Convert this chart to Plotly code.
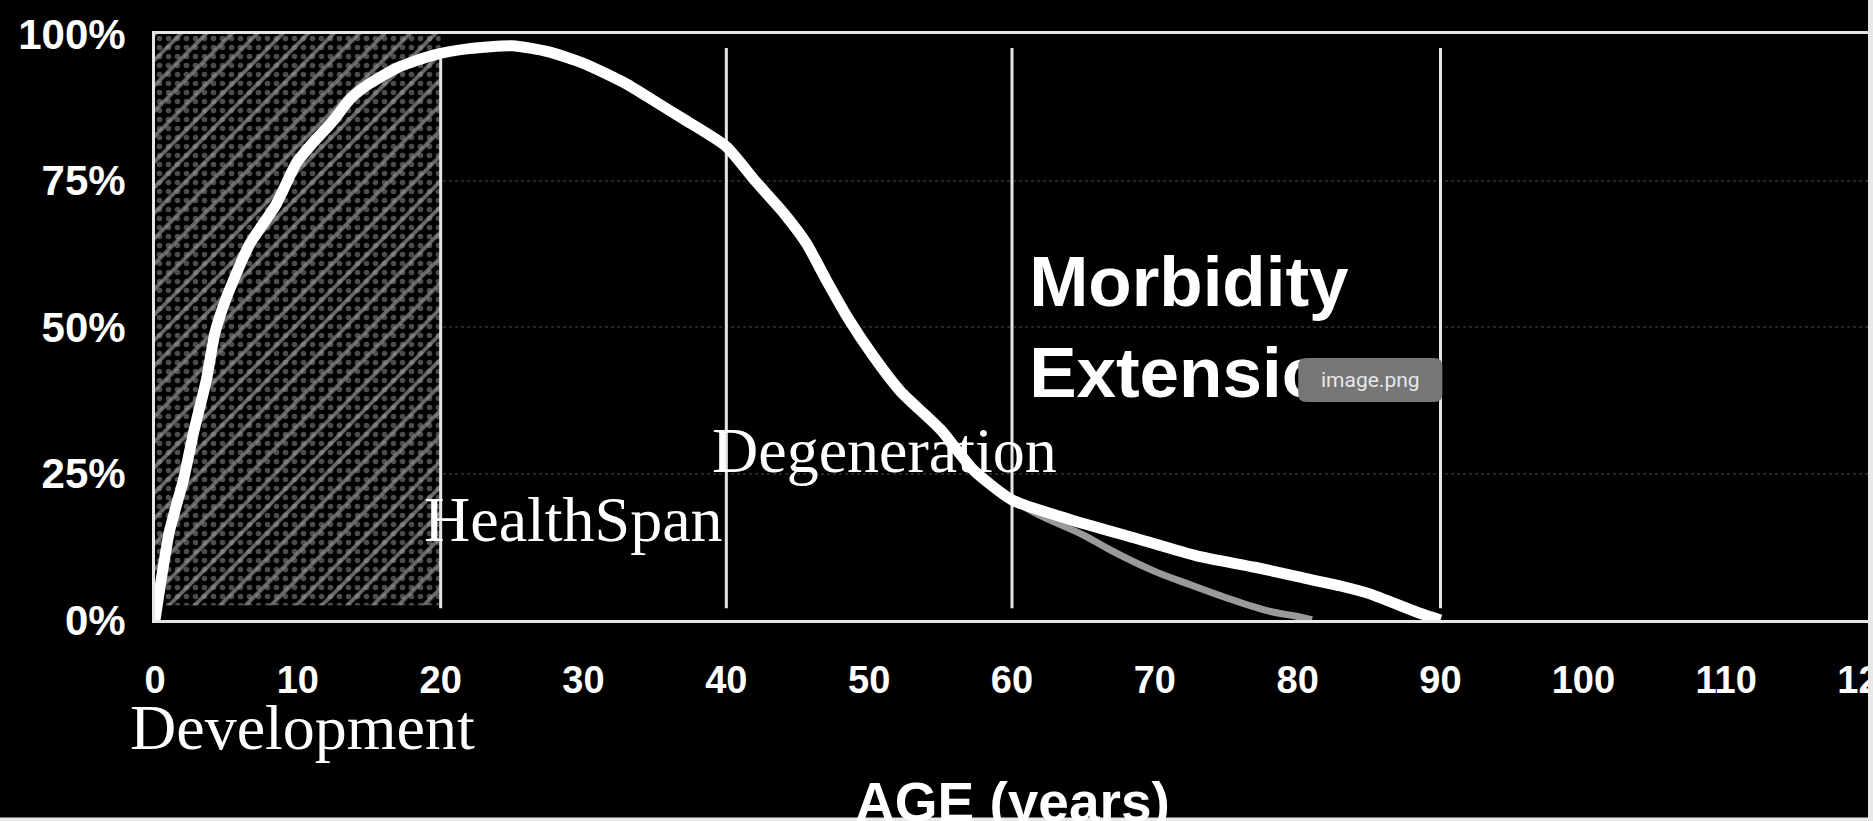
import plotly.graph_objects as go

# ---- data ----
age = [0, 1, 2, 2.7, 3.6, 4.2, 5, 6.6, 8.5, 9.9, 10.9, 12.4, 13.7, 15, 17, 19.5, 22, 25,
       27.5, 30, 33, 35, 37, 40, 42, 44, 45.6, 47, 48.4, 50.3, 52.2, 55, 57.3, 60, 64,
       69, 73, 77, 80, 83, 85, 88.5, 90]
survival_pct = [0, 15, 24, 32, 41, 49, 55, 64, 71, 78, 81, 85, 89, 91.5, 94.3, 96.4, 97.5, 98,
                97, 95, 91.5, 88.5, 85.5, 80.8, 75, 69.5, 64.3, 58, 52, 45, 39, 32.5, 25.6, 20.5, 17.2,
                13.7, 10.9, 9, 7.4, 5.8, 4.5, 1.2, 0]

alt_age = [60, 62, 65, 67, 70, 72.5, 75, 78, 80, 81]
alt_pct = [20.5, 17.8, 14.5, 11.8, 8.3, 6.0, 3.8, 1.5, 0.6, 0]

development_range = [0, 20]
stage_bounds = [20, 40, 60, 90]

x_ticks = list(range(0, 121, 10))
y_ticks = [0, 25, 50, 75, 100]
y_tick_labels = ["0%", "25%", "50%", "75%", "100%"]

stage_labels = ["Development", "HealthSpan", "Degeneration"]
stage_label_x = [10.3, 29.3, 51.1]
stage_label_y = [-0.183, 0.171, 0.290]        # paper units

morbidity_lines = ["Morbidity", "Extension"]
morbidity_x = [61.2, 61.2]
morbidity_y = [56.6, 41.1]

x_title = "AGE (years)"
tooltip_text = "image.png"
tooltip_box = [80.04, 90.13, 37.2, 44.7]   # x0, x1, y0, y1 in data units

# ---- figure ----
LINE = "#e6e6e6"
fig = go.Figure()

hx = [development_range[0], development_range[1], development_range[1], development_range[0], development_range[0]]
hy = [2.5, 2.5, 100, 100, 2.5]
fig.add_trace(go.Scatter(x=hx, y=hy, mode="lines", fill="toself", line=dict(width=0),
                         fillcolor="black",
                         fillpattern=dict(shape="/", fgcolor="#cfcfcf", bgcolor="black",
                                          size=18, solidity=0.22),
                         hoverinfo="skip"))
fig.add_trace(go.Scatter(x=hx, y=hy, mode="lines", fill="toself", line=dict(width=0),
                         fillcolor="rgba(0,0,0,0)",
                         fillpattern=dict(shape=".", fgcolor="#9a9a9a", bgcolor="rgba(0,0,0,0)",
                                          size=9, solidity=0.3),
                         hoverinfo="skip"))

vx, vy = [], []
for b in stage_bounds:
    vx += [b, b, None]
    vy += [2.0, 97.6, None]
fig.add_trace(go.Scatter(x=vx, y=vy, mode="lines", line=dict(color=LINE, width=3),
                         hoverinfo="skip"))

fig.add_trace(go.Scatter(x=alt_age, y=alt_pct, mode="lines",
                         line=dict(color="#9a9a9a", width=7, shape="spline"), hoverinfo="skip"))
fig.add_trace(go.Scatter(x=age, y=survival_pct, mode="lines",
                         line=dict(color="white", width=11, shape="spline", smoothing=0.6),
                         hoverinfo="skip"))

fig.add_trace(go.Scatter(x=morbidity_x, y=morbidity_y, mode="text", text=morbidity_lines,
                         textposition="middle right", cliponaxis=False,
                         textfont=dict(family="Liberation Sans, Arial, sans-serif", size=71,
                                       color="white", weight="bold"),
                         hoverinfo="skip"))

serif = "Liberation Serif, Times New Roman, serif"
for t, x, y in zip(stage_labels, stage_label_x, stage_label_y):
    fig.add_annotation(x=x, y=y, xref="x", yref="paper", text=t, showarrow=False,
                       xanchor="center", yanchor="middle",
                       font=dict(family=serif, size=64, color="white"))

fig.add_annotation(x=60.0, y=-0.31, xref="x", yref="paper", text=x_title, showarrow=False,
                   xanchor="center", yanchor="middle",
                   font=dict(family="Liberation Sans, Arial, sans-serif", size=55,
                             color="white", weight="bold"))

# tooltip-like rounded box
x0, x1, y0, y1 = tooltip_box
rx, ry = 0.56, 1.37
path = (f"M {x0+rx},{y0} L {x1-rx},{y0} Q {x1},{y0} {x1},{y0+ry} L {x1},{y1-ry} "
        f"Q {x1},{y1} {x1-rx},{y1} L {x0+rx},{y1} Q {x0},{y1} {x0},{y1-ry} "
        f"L {x0},{y0+ry} Q {x0},{y0} {x0+rx},{y0} Z")
fig.add_shape(type="path", path=path, xref="x", yref="y", fillcolor="#767676",
              line=dict(width=0), layer="above")
fig.add_annotation(x=(x0 + x1) / 2, y=(y0 + y1) / 2, xref="x", yref="y", text=tooltip_text,
                   showarrow=False, xanchor="center", yanchor="middle",
                   font=dict(family="Roboto, Noto Sans, sans-serif", size=21, color="#e8e8e8"))

# screenshot edge strips
fig.add_shape(type="rect", xref="paper", yref="paper", x0=0.99942, x1=1.01, y0=-0.40, y1=1.1,
              fillcolor="#e9e9e9", line=dict(width=0), layer="above")
fig.add_shape(type="rect", xref="paper", yref="paper", x0=-0.1, x1=1.01, y0=-0.40, y1=-0.3370,
              fillcolor="#e9e9e9", line=dict(width=0), layer="above")

fig.update_xaxes(range=[0, 120], tickvals=x_ticks, ticks="", showgrid=False, zeroline=False,
                 showline=True, mirror=True, linecolor=LINE, linewidth=3, automargin=False,
                 ticklabelstandoff=24, ticklabeloverflow="allow",
                 tickfont=dict(family="Liberation Sans, Arial, sans-serif",
                               size=38, color="white", weight="bold"))
fig.update_yaxes(range=[0, 100], tickvals=y_ticks, ticktext=y_tick_labels, ticks="",
                 showgrid=True, gridcolor="#262626", griddash="dot", gridwidth=2,
                 zeroline=False, showline=True, mirror=False, linecolor=LINE, linewidth=3,
                 automargin=False, ticklabelstandoff=18,
                 tickfont=dict(family="Liberation Sans, Arial, sans-serif", size=42,
                               color="white", weight="bold"))

fig.update_layout(width=1873, height=821, margin=dict(l=155, r=4, t=34, b=201, autoexpand=False),
                  paper_bgcolor="black", plot_bgcolor="black", showlegend=False,
                  hovermode=False)

fig.write_html("out.html", config={"displayModeBar": False},
               post_script="document.body.style.margin='0';")
